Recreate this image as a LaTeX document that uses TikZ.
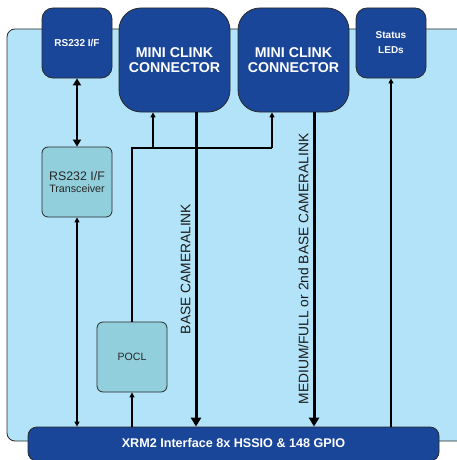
\documentclass[tikz,border=0pt]{standalone}
\usepackage{fontspec}
\setmainfont{Liberation Sans}
\usetikzlibrary{arrows.meta}
\definecolor{panelblue}{HTML}{B3E3F8}
\definecolor{darkblue}{HTML}{1A4699}
\definecolor{tealbox}{HTML}{92CFDC}
\definecolor{edgegray}{HTML}{2A2A2A}
\tikzset{
  darkbox/.style={draw=edgegray, line width=0.8pt, fill=darkblue, text=white, align=center, inner sep=0pt},
  lightbox/.style={draw=edgegray, line width=0.8pt, fill=tealbox, text=black!85, align=center, inner sep=0pt, rounded corners=6pt, minimum width=70pt, minimum height=70pt},
  thinarr/.style={line width=1.3pt, -{Triangle[length=5pt,width=5pt]}},
  thinline/.style={line width=1.3pt},
  heavyarr/.style={line width=3pt, -{Triangle[length=9pt,width=10pt]}},
  dblarr/.style={line width=2.5pt, {Triangle[length=7pt,width=8pt]}-{Triangle[length=7pt,width=8pt]}},
  thindbl/.style={line width=1.3pt, {Triangle[length=5pt,width=5pt]}-{Triangle[length=5pt,width=5pt]}},
  sidelabel/.style={rotate=90, font=\fontsize{13.8}{15}\selectfont, text=black!90, inner sep=0pt}
}
\begin{document}
\begin{tikzpicture}[x=1pt,y=-1pt]
\useasboundingbox (0,0) rectangle (456,460);
% panel
\draw[draw=edgegray, line width=0.8pt, fill=panelblue, rounded corners=8pt] (7,29) rectangle (470,441);
% top boxes
\node[darkbox, rounded corners=11pt, minimum width=70pt, minimum height=70pt, font=\bfseries\fontsize{10}{15}\selectfont] (rs) at (77,43) {RS232 I/F};
\node[darkbox, rounded corners=22pt, minimum width=111pt, minimum height=104pt, font=\bfseries\fontsize{14.2}{15}\selectfont] (c1) at (174.5,60) {MINI CLINK\\CONNECTOR};
\node[darkbox, rounded corners=22pt, minimum width=111pt, minimum height=104pt, font=\bfseries\fontsize{14.2}{15}\selectfont] (c2) at (293.5,60) {MINI CLINK\\CONNECTOR};
\node[darkbox, rounded corners=11pt, minimum width=70pt, minimum height=70pt, font=\bfseries\fontsize{10}{15}\selectfont] (led) at (391,43) {Status\\LEDs};
% light boxes
\node[lightbox] (trx) at (77,182) {{\fontsize{12.4}{10}\selectfont RS232 I/F}\\{\fontsize{10.7}{10}\selectfont Transceiver}};
\node[lightbox, font=\fontsize{10.6}{12}\selectfont] (pocl) at (132,357) {POCL};
% bottom bar
\node[darkbox, rounded corners=9pt, minimum width=411pt, minimum height=34pt, font=\bfseries\fontsize{12.6}{14}\selectfont] (xrm) at (233.5,444) {};
\node[text=white, font=\bfseries\fontsize{12.6}{14}\selectfont, inner sep=0pt] (xrmtxt) at (233.5,443) {XRM2 Interface 8x HSSIO \& 148 GPIO};
% coordinates
\coordinate (j0) at (132,148);
\coordinate (j1) at (153,148);
\coordinate (j2) at (272,148);
\coordinate (b1) at (196,0);
\coordinate (b2) at (314,0);
% connectors
\draw[dblarr] (rs.south) -- (trx.north);
\draw[thindbl] (trx.south) -- (trx.south |- xrm.north);
\draw[thinarr] (pocl.south |- xrm.north) -- (pocl.south);
\draw[thinline] (pocl.north) -- (j0) -- (j2);
\draw[thinarr] (j1) -- (j1 |- c1.south);
\draw[thinarr] (j2) -- (j2 |- c2.south);
\draw[heavyarr] (b1 |- c1.south) -- (b1 |- xrm.north);
\draw[heavyarr] (b2 |- c2.south) -- (b2 |- xrm.north);
\draw[thinarr] (led.south |- xrm.north) -- (led.south);
% labels
\node[sidelabel] (lb1) at (185.5,269) {BASE CAMERALINK};
\node[sidelabel] (lb2) at (303.5,269) {MEDIUM/FULL or 2nd BASE CAMERALINK};
\end{tikzpicture}
\end{document}
